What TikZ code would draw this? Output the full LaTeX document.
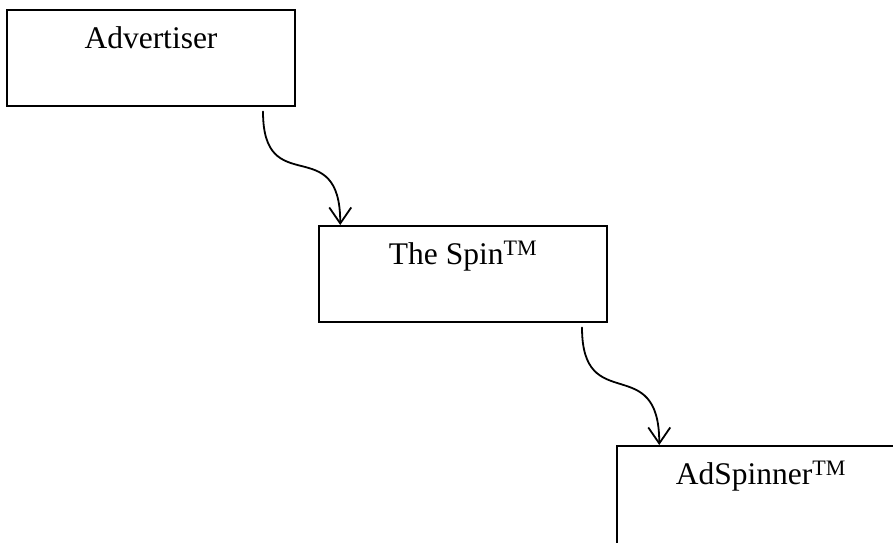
\documentclass[tikz,border=0pt]{standalone}
\usepackage{fontspec}
\setmainfont{Liberation Serif}
\usetikzlibrary{arrows.meta,positioning,calc}
\tikzset{flow/.style={-{Straight Barb[length=16pt,width=22pt,line width=1.8pt]},line width=1.8pt},every picture/.style={line cap=round}}

\begin{document}
\begin{tikzpicture}[x=1pt,y=-1pt,stage/.style={draw,line width=1.5pt,anchor=north,minimum width=288pt,inner xsep=0pt,inner ysep=0pt,text height=39pt,text depth=57pt,font=\fontsize{31.5}{38}\selectfont}]
\useasboundingbox (0,0) rectangle (893,542);
\clip (0,0) rectangle (893,542);
\node[stage] (adv) at (151,9) {Advertiser};
\node[stage] (spin) at (463,225) {The Spin\textsuperscript{TM}};
\node[stage,text depth=80pt] (adsp) at (761,445) {AdSpinner\textsuperscript{TM}};
\draw[flow] ([xshift=112pt,yshift=-5pt]adv.south) .. controls +(0pt,-90pt) and +(0pt,95pt) .. ([xshift=22pt]spin.north west);
\draw[flow] ([xshift=119pt,yshift=-5pt]spin.south) .. controls +(0pt,-90pt) and +(0pt,95pt) .. ([xshift=43pt]adsp.north west);
\end{tikzpicture}
\end{document}
